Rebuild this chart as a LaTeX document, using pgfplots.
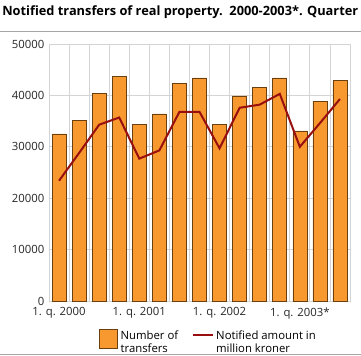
\documentclass[border=0pt]{standalone}
\usepackage{pgfplots}
\pgfplotsset{compat=1.18}
\usepackage{fontspec}
\setmainfont{Open Sans}
\definecolor{barorange}{HTML}{F7992F}
\definecolor{baredge}{HTML}{6B4010}
\definecolor{linered}{HTML}{990F0F}
\definecolor{gridgray}{HTML}{D4D4D4}
\begin{document}
\begin{tikzpicture}
\path[use as bounding box] (0,0) rectangle (270.75pt,266.25pt);
\node[anchor=west, inner sep=0pt, font=\bfseries\fontsize{9.6}{11}\selectfont] at (1.5pt,257pt) {Notified transfers of real property.\ \ 2000-2003*. Quarter};
\draw[gray!70, line width=0.75pt] (0,243pt) -- (270.75pt,243pt);
\draw[gray!70, line width=0.75pt] (0,0.75pt) -- (270.75pt,0.75pt);
\begin{axis}[
  at={(36.75pt,40.5pt)}, anchor=south west,
  scale only axis, width=225.75pt, height=192.75pt,
  ymin=0, ymax=50000, xmin=0.5, xmax=15.5,
  ytick={0,10000,...,50000},
  scaled y ticks=false,
  y tick label style={/pgf/number format/.cd, 1000 sep={}, fixed},
  xtick={1,5,9,13},
  xticklabels={1. q. 2000,1. q. 2001,1. q. 2002,1. q. 2003*},
  x tick label style={yshift=-1.5pt},
  minor xtick={1.5,2.5,...,14.5},
  xminorgrids, ymajorgrids,
  grid style={gridgray, line width=0.6pt},
  minor grid style={gridgray, line width=0.6pt},
  major tick length=0pt, minor tick length=0pt,
  axis line style={gridgray, line width=0.6pt},
  tick label style={font=\fontsize{8.5}{10}\selectfont, text=black!85},
  /pgf/number format/assume math mode=true,
  legend style={at={(0.53,-0.09)}, anchor=north, draw=none, fill=none,
    legend columns=2, font=\fontsize{8.5}{10}\selectfont,
    /tikz/every even column/.append style={column sep=8pt}},
  legend cell align=left,
]
\addplot[ybar, bar width=10.5pt, fill=barorange, draw=baredge, line width=0.5pt,
  legend image code/.code={\draw[fill=barorange, draw=baredge, line width=0.5pt] (0pt,-7pt) rectangle (14pt,7pt);}]
  coordinates {(1,32500) (2,35200) (3,40400) (4,43700) (5,34400) (6,36400) (7,42300) (8,43400) (9,34300) (10,39900) (11,41600) (12,43400) (13,33100) (14,38900) (15,42900)};
\addlegendentry{{\begin{tabular}{@{}l@{}}Number of\\transfers\end{tabular}}}
\addplot[sharp plot, linered, line width=1.5pt, no marks,
  legend image code/.code={\draw[linered, line width=1.5pt] (0pt,3pt) -- (15pt,3pt);}]
  coordinates {(1,23400) (2,28800) (3,34300) (4,35700) (5,27700) (6,29300) (7,36800) (8,36800) (9,29700) (10,37600) (11,38200) (12,40300) (13,30000) (14,34600) (15,39300)};
\addlegendentry{{\begin{tabular}{@{}l@{}}Notified amount in\\million kroner\end{tabular}}}
\end{axis}
\end{tikzpicture}
\end{document}
